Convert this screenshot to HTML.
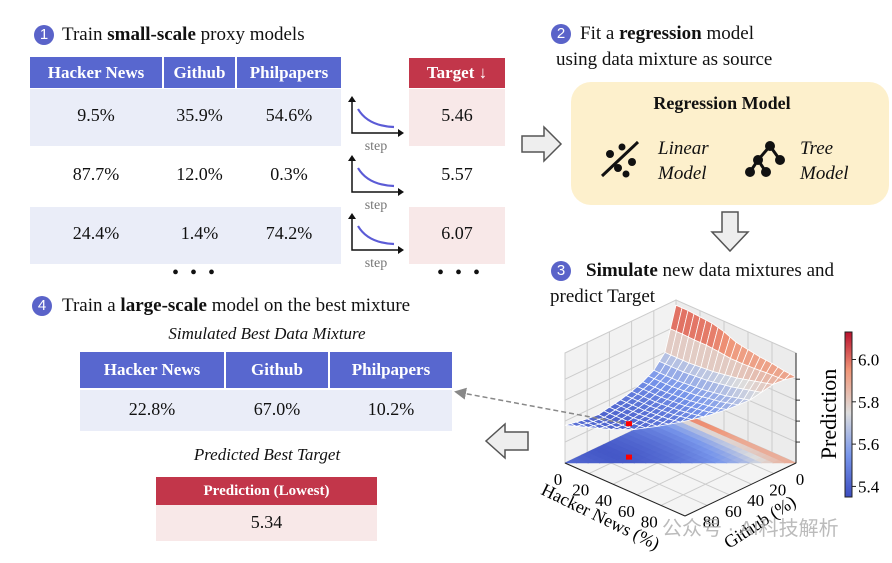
<!DOCTYPE html>
<html><head><meta charset="utf-8">
<style>
body{margin:0;background:#fff;}
#root{position:relative;width:892px;height:563px;overflow:hidden;font-family:"Liberation Serif","Noto Serif CJK SC",serif;color:#111;}
.a{position:absolute;}
.num{position:absolute;width:20px;height:20px;border-radius:50%;background:#5a63c9;color:#fff;font-size:15px;text-align:center;line-height:20px;font-family:"Liberation Sans",sans-serif;}
.t{position:absolute;font-size:19px;white-space:nowrap;}
.hd{position:absolute;background:#5867cf;color:#fff;font-weight:bold;font-size:17px;text-align:center;}
.cell{position:absolute;font-size:18px;text-align:center;}
.it{position:absolute;font-style:italic;font-size:17px;white-space:nowrap;}
</style></head><body>
<div id="root">

<div class="num" style="left:34px;top:25px">1</div>
<div class="t" style="left:62px;top:24px">Train <b>small-scale</b> proxy models</div>

<div>
<div class="a" style="left:30px;top:89px;width:311px;height:57px;background:#eaedf8"></div>
<div class="a" style="left:30px;top:207px;width:311px;height:57px;background:#eaedf8"></div>
<div class="hd" style="left:30px;top:57px;width:132px;height:31px;line-height:31px">Hacker News</div>
<div class="hd" style="left:164px;top:57px;width:71px;height:31px;line-height:31px">Github</div>
<div class="hd" style="left:237px;top:57px;width:104px;height:31px;line-height:31px">Philpapers</div>
<div class="cell" style="left:30px;top:105px;width:132px">9.5%</div>
<div class="cell" style="left:164px;top:105px;width:71px">35.9%</div>
<div class="cell" style="left:237px;top:105px;width:104px">54.6%</div>
<div class="cell" style="left:30px;top:164px;width:132px">87.7%</div>
<div class="cell" style="left:164px;top:164px;width:71px">12.0%</div>
<div class="cell" style="left:237px;top:164px;width:104px">0.3%</div>
<div class="cell" style="left:30px;top:223px;width:132px">24.4%</div>
<div class="cell" style="left:164px;top:223px;width:71px">1.4%</div>
<div class="cell" style="left:237px;top:223px;width:104px">74.2%</div>
<div class="cell" style="left:160px;top:262px;width:70px;font-size:20px;letter-spacing:3px">• • •</div>
</div>

<div>
<div class="a" style="left:409px;top:58px;width:96px;height:30px;background:#c2364a;color:#fff;font-weight:bold;font-size:17px;text-align:center;line-height:30px">Target ↓</div>
<div class="a" style="left:409px;top:89px;width:96px;height:57px;background:#f8e8e8"></div>
<div class="a" style="left:409px;top:207px;width:96px;height:57px;background:#f8e8e8"></div>
<div class="cell" style="left:409px;top:105px;width:96px">5.46</div>
<div class="cell" style="left:409px;top:164px;width:96px">5.57</div>
<div class="cell" style="left:409px;top:223px;width:96px">6.07</div>
<div class="cell" style="left:425px;top:262px;width:70px;font-size:20px;letter-spacing:3px">• • •</div>
</div>

<svg class="a" style="left:0;top:0" width="892" height="563">
 <g id="minis"></g>
 <path d="M522,136 H544 V127 L561,144 L544,161 V152 H522 Z" fill="#eee" stroke="#555" stroke-width="1.5"/>
 <path d="M722,212 V232 H712 L730,251 L748,232 H738 V212 Z" fill="#eee" stroke="#555" stroke-width="1.5"/>
 <path d="M528,432 H505 V424 L486,441 L505,458 V450 H528 Z" fill="#eee" stroke="#555" stroke-width="1.5"/>
</svg>

<div class="num" style="left:551px;top:24px">2</div>
<div class="t" style="left:580px;top:23px">Fit a <b>regression</b> model</div>
<div class="t" style="left:556px;top:49px">using data mixture as source</div>

<div class="a" style="left:571px;top:82px;width:318px;height:123px;background:#fdf0cc;border-radius:20px"></div>
<div class="t" style="left:571px;top:93px;width:302px;text-align:center;font-weight:bold;font-size:18px">Regression Model</div>
<svg class="a" style="left:598px;top:138px" width="50" height="42">
 <line x1="4" y1="38" x2="40" y2="4" stroke="#111" stroke-width="3"/>
 <circle cx="12" cy="16" r="4" fill="#111"/><circle cx="24" cy="9" r="3.5" fill="#111"/><circle cx="20" cy="30" r="4" fill="#111"/><circle cx="34" cy="24" r="4" fill="#111"/><circle cx="28" cy="36" r="3.5" fill="#111"/>
</svg>
<div class="it" style="left:658px;top:138px;font-size:19px">Linear</div>
<div class="it" style="left:658px;top:163px;font-size:19px">Model</div>
<svg class="a" style="left:744px;top:138px" width="46" height="42">
 <path d="M26,8 L14,22 L6,34 M14,22 L22,34 M26,8 L36,22" stroke="#111" stroke-width="3" fill="none"/>
 <circle cx="26" cy="8" r="5" fill="#111"/><circle cx="14" cy="22" r="5" fill="#111"/><circle cx="36" cy="22" r="5" fill="#111"/><circle cx="6" cy="34" r="5" fill="#111"/><circle cx="22" cy="34" r="5" fill="#111"/>
</svg>
<div class="it" style="left:800px;top:138px;font-size:19px">Tree</div>
<div class="it" style="left:800px;top:163px;font-size:19px">Model</div>

<div class="num" style="left:551px;top:261px">3</div>
<div class="t" style="left:586px;top:260px"><b>Simulate</b> new data mixtures and</div>
<div class="t" style="left:550px;top:286px">predict Target</div>

<div class="num" style="left:32px;top:296px">4</div>
<div class="t" style="left:62px;top:295px">Train a <b>large-scale</b> model on the best mixture</div>
<div class="it" style="left:80px;top:324px;width:374px;text-align:center">Simulated Best Data Mixture</div>

<div>
<div class="hd" style="left:80px;top:352px;width:144px;height:36px;line-height:36px">Hacker News</div>
<div class="hd" style="left:226px;top:352px;width:102px;height:36px;line-height:36px">Github</div>
<div class="hd" style="left:330px;top:352px;width:122px;height:36px;line-height:36px">Philpapers</div>
<div class="a" style="left:80px;top:390px;width:372px;height:41px;background:#eaedf8"></div>
<div class="cell" style="left:80px;top:399px;width:144px">22.8%</div>
<div class="cell" style="left:226px;top:399px;width:102px">67.0%</div>
<div class="cell" style="left:330px;top:399px;width:122px">10.2%</div>
</div>

<div class="it" style="left:80px;top:445px;width:374px;text-align:center">Predicted Best Target</div>
<div class="a" style="left:156px;top:477px;width:221px;height:28px;background:#c2364a;color:#fff;font-weight:bold;font-size:15px;text-align:center;line-height:28px">Prediction (Lowest)</div>
<div class="a" style="left:156px;top:505px;width:221px;height:36px;background:#f8e8e8"></div>
<div class="cell" style="left:156px;top:512px;width:221px">5.34</div>

<svg class="a" id="plot" style="left:0;top:0" width="892" height="563">
 <defs><marker id="ah" markerWidth="8" markerHeight="8" refX="6" refY="4" orient="auto"><path d="M0,0 L8,4 L0,8 z" fill="#888"/></marker></defs>
</svg>
</div>

<script>
// surface data: Github 0..100 (step 10) profile, Hacker News 0..100 (step 10) offsets
const hnTicks = [0, 20, 40, 60, 80];
const ghTicks = [0, 20, 40, 60, 80];
const cbTicks = [5.4, 5.6, 5.8, 6.0];
const githubProfile = [5.80, 5.70, 5.58, 5.52, 5.48, 5.45, 5.43, 5.41, 5.42, 5.44, 5.46];
const hnOffset = [0.00, 0.00, 0.00, 0.01, 0.02, 0.04, 0.06, 0.09, 0.12, 0.15, 0.18];
const wallHn = [6.10, 6.10, 6.09, 6.08, 6.05, 6.00, 5.98, 5.96, 5.95, 5.93, 5.92];
const bestPoint = [22.8, 67.0];

const NS = 'http://www.w3.org/2000/svg';
const svg = document.getElementById('plot');
function mk(tag, at, parent) { const e = document.createElementNS(NS, tag); for (const k in at) e.setAttribute(k, at[k]); (parent || svg).appendChild(e); return e; }

// mini loss-curve icons
const minis = document.getElementById('minis');
[96, 155, 213].forEach(function (t) {
  const g = mk('g', {}, minis);
  
  
  mk('path', { d: `M352,${t + 2} V${t + 37} H398`, stroke: '#111', 'stroke-width': 1.5, fill: 'none' }, g);
  mk('path', { d: `M348,${t + 6} L352,${t} L356,${t + 6} Z M398,${t + 33} L404,${t + 37} L398,${t + 41} Z`, fill: '#111' }, g);
  mk('path', { d: `M358,${t + 13} Q368,${t + 30} 394,${t + 31}`, stroke: '#5b5bd6', 'stroke-width': 2.2, fill: 'none' }, g);
  const tx = mk('text', { x: 376, y: t + 54, 'font-size': 14, fill: '#777', 'text-anchor': 'middle', 'font-family': 'Liberation Serif' }, g);
  tx.textContent = 'step';
});

// 3D projection
const back = [676, 410], left = [565, 463], right = [796, 463];
const H = 110, zMin = 5.1, zMax = 6.15, axMax = 100;
function P(h, g, z) {
  const u = h / axMax, v = g / axMax;
  const x = back[0] + u * (right[0] - back[0]) + v * (left[0] - back[0]);
  const y = back[1] + u * (right[1] - back[1]) + v * (left[1] - back[1]) - (z - zMin) / (zMax - zMin) * H;
  return [x, y];
}
function color(z) {
  const stops = [[5.35, [59, 76, 192]], [5.55, [120, 150, 235]], [5.75, [221, 221, 221]], [5.95, [240, 150, 120]], [6.15, [180, 4, 38]]];
  if (z <= stops[0][0]) return 'rgb(59,76,192)';
  for (let i = 1; i < stops.length; i++) if (z <= stops[i][0]) {
    const a = stops[i - 1], b = stops[i], t = (z - a[0]) / (b[0] - a[0]);
    return 'rgb(' + a[1].map((c, k) => Math.round(c + (b[1][k] - c) * t)).join(',') + ')';
  }
  return 'rgb(180,4,38)';
}
const pts = a => a.map(p => p.join(',')).join(' ');
function named(e, n) {   return e; }

// walls
named(mk('polygon', { points: pts([P(0, axMax, zMin), P(0, 0, zMin), P(0, 0, zMax), P(0, axMax, zMax)]), fill: '#f2f2f2', stroke: '#ccc' }), 'back-wall-left');
named(mk('polygon', { points: pts([P(0, 0, zMin), P(axMax, 0, zMin), P(axMax, 0, zMax), P(0, 0, zMax)]), fill: '#ececec', stroke: '#ccc' }), 'back-wall-right');
named(mk('polygon', { points: pts([P(0, 0, zMin), P(axMax, 0, zMin), P(axMax, axMax, zMin), P(0, axMax, zMin)]), fill: '#f4f4f4', stroke: '#ccc' }), 'floor-pane');
for (let k = 20; k < axMax; k += 20) {
  mk('line', { x1: P(0, k, zMin)[0], y1: P(0, k, zMin)[1], x2: P(0, k, zMax)[0], y2: P(0, k, zMax)[1], stroke: '#ccc' });
  mk('line', { x1: P(k, 0, zMin)[0], y1: P(k, 0, zMin)[1], x2: P(k, 0, zMax)[0], y2: P(k, 0, zMax)[1], stroke: '#ccc' });
  mk('line', { x1: P(0, k, zMin)[0], y1: P(0, k, zMin)[1], x2: P(axMax, k, zMin)[0], y2: P(axMax, k, zMin)[1], stroke: '#ccc' });
  mk('line', { x1: P(k, 0, zMin)[0], y1: P(k, 0, zMin)[1], x2: P(k, axMax, zMin)[0], y2: P(k, axMax, zMin)[1], stroke: '#ccc' });
}
for (let z = 5.3; z <= 6.1; z += 0.2) {
  mk('line', { x1: P(0, axMax, z)[0], y1: P(0, axMax, z)[1], x2: P(0, 0, z)[0], y2: P(0, 0, z)[1], stroke: '#ccc' });
  mk('line', { x1: P(0, 0, z)[0], y1: P(0, 0, z)[1], x2: P(axMax, 0, z)[0], y2: P(axMax, 0, z)[1], stroke: '#ccc' });
  const e = P(axMax, 0, z);
  mk('line', { x1: e[0], y1: e[1], x2: e[0] + 4, y2: e[1], stroke: '#333' });
}

// surface value function (interpolated from data arrays)
const dstep = 10;
function interp(arr, x) { const f = x / dstep, i0 = Math.min(Math.floor(f), arr.length - 2), t = f - i0; return arr[i0] * (1 - t) + arr[i0 + 1] * t; }
function Zin(h, g) { return interp(githubProfile, g) + interp(hnOffset, h); }
function Zf(h, g) {
  if (g >= dstep) return Zin(h, g);
  const t = g / dstep;
  return interp(wallHn, h) * (1 - t) + Zin(h, dstep) * t;
}

const s = 5;
const cells = [];
for (let h0 = 0; h0 < axMax; h0 += s) for (let g0 = 0; g0 < axMax; g0 += s) {
  if (h0 + g0 >= axMax) continue;
  const h1 = h0 + s, g1 = g0 + s;
  const corners = (h1 + g1 > axMax) ? [[h0, g0], [h1, g0], [h0, g1]] : [[h0, g0], [h1, g0], [h1, g1], [h0, g1]];
  cells.push({ d: h0 + g0, c: corners });
}
// floor contour
cells.forEach(function (cell) {
  const zs = cell.c.map(p => Zf(p[0], p[1]));
  const avg = zs.reduce((a, b) => a + b, 0) / zs.length;
  const col = color(avg - 0.03);
  named(mk('polygon', { points: pts(cell.c.map(p => P(p[0], p[1], zMin))), fill: col, stroke: col, 'stroke-width': 0.6 }), 'contour-cell');
});
// surface, back to front
cells.sort((a, b) => a.d - b.d);
cells.forEach(function (cell) {
  const zs = cell.c.map(p => Zf(p[0], p[1]));
  const avg = zs.reduce((a, b) => a + b, 0) / zs.length;
  named(mk('polygon', { points: pts(cell.c.map((p, k) => P(p[0], p[1], zs[k]))), fill: color(avg), stroke: '#fff', 'stroke-width': 0.8 }), 'surface-cell');
});

// best point markers + dashed pointer
const bz = Zf(bestPoint[0], bestPoint[1]);
const bp = P(bestPoint[0], bestPoint[1], bz), bf = P(bestPoint[0], bestPoint[1], zMin);
named(mk('line', { x1: bp[0], y1: bp[1], x2: 457, y2: 392, stroke: '#888', 'stroke-width': 1.5, 'stroke-dasharray': '5,3', 'marker-end': 'url(#ah)' }), 'best-point-pointer');
named(mk('rect', { x: bp[0] - 3, y: bp[1] - 3, width: 6, height: 5, fill: '#ff0000' }), 'best-point-surface');
named(mk('rect', { x: bf[0] - 3, y: bf[1] - 3, width: 6, height: 5, fill: '#ff0000' }), 'best-point-floor');

// axis edges
const front = P(axMax, axMax, zMin);
mk('line', { x1: left[0], y1: left[1], x2: front[0], y2: front[1], stroke: '#222' });
mk('line', { x1: right[0], y1: right[1], x2: front[0], y2: front[1], stroke: '#222' });
mk('line', { x1: right[0], y1: right[1], x2: P(axMax, 0, zMax)[0], y2: P(axMax, 0, zMax)[1], stroke: '#222' });

// tick labels
hnTicks.forEach(function (v) {
  const q = P(v, axMax, zMin);
  const t = named(mk('text', { x: q[0] - 7 - 6 * v / 100, y: q[1] + 22, 'font-size': 17, 'text-anchor': 'middle', 'font-family': 'Liberation Serif' }), 'hn-tick-label');
  t.textContent = v;
});
ghTicks.forEach(function (v) {
  const q = P(axMax, v, zMin);
  const t = named(mk('text', { x: q[0] + 4, y: q[1] + 22, 'font-size': 17, 'text-anchor': 'middle', 'font-family': 'Liberation Serif' }), 'github-tick-label');
  t.textContent = v;
});
const xt = named(mk('text', { x: 0, y: 0, 'font-size': 18, 'text-anchor': 'middle', 'font-family': 'Liberation Serif', transform: 'translate(598,522) rotate(26)' }), 'x-axis-title');
xt.textContent = 'Hacker News (%)';
const yt = named(mk('text', { x: 0, y: 0, 'font-size': 18, 'text-anchor': 'middle', 'font-family': 'Liberation Serif', transform: 'translate(763,527) rotate(-33)' }), 'y-axis-title');
yt.textContent = 'Github (%)';

// colorbar
const cbTop = 332, cbBot = 497, cbMin = 5.35, cbMax = 6.13;
const cy = v => cbBot - (v - cbMin) / (cbMax - cbMin) * (cbBot - cbTop);
for (let y = cbTop; y < cbBot; y++) {
  const z = cbMax - (y - cbTop) / (cbBot - cbTop) * (cbMax - cbMin);
  mk('rect', { x: 845, y: y, width: 7, height: 1.2, fill: color(z) });
}
named(mk('rect', { x: 845, y: cbTop, width: 7, height: cbBot - cbTop, fill: 'none', stroke: '#222' }), 'colorbar');
cbTicks.forEach(function (v) {
  mk('line', { x1: 852, y1: cy(v), x2: 856, y2: cy(v), stroke: '#222' });
  const t = named(mk('text', { x: 858, y: cy(v) + 6, 'font-size': 17, 'font-family': 'Liberation Serif' }), 'colorbar-tick-label');
  t.textContent = v.toFixed(1);
});
const cbt = named(mk('text', { x: 0, y: 0, 'font-size': 22, 'text-anchor': 'middle', 'font-family': 'Liberation Serif', transform: 'translate(836,414) rotate(-90)' }), 'colorbar-title');
cbt.textContent = 'Prediction';

const wm = named(mk('text', { x: 662, y: 535, 'font-size': 20, fill: '#aaa', 'fill-opacity': 0.8, 'font-family': 'Liberation Sans, Noto Sans CJK SC, sans-serif' }), 'watermark');
wm.textContent = '公众号 · AI科技解析';
</script>
</body></html>
